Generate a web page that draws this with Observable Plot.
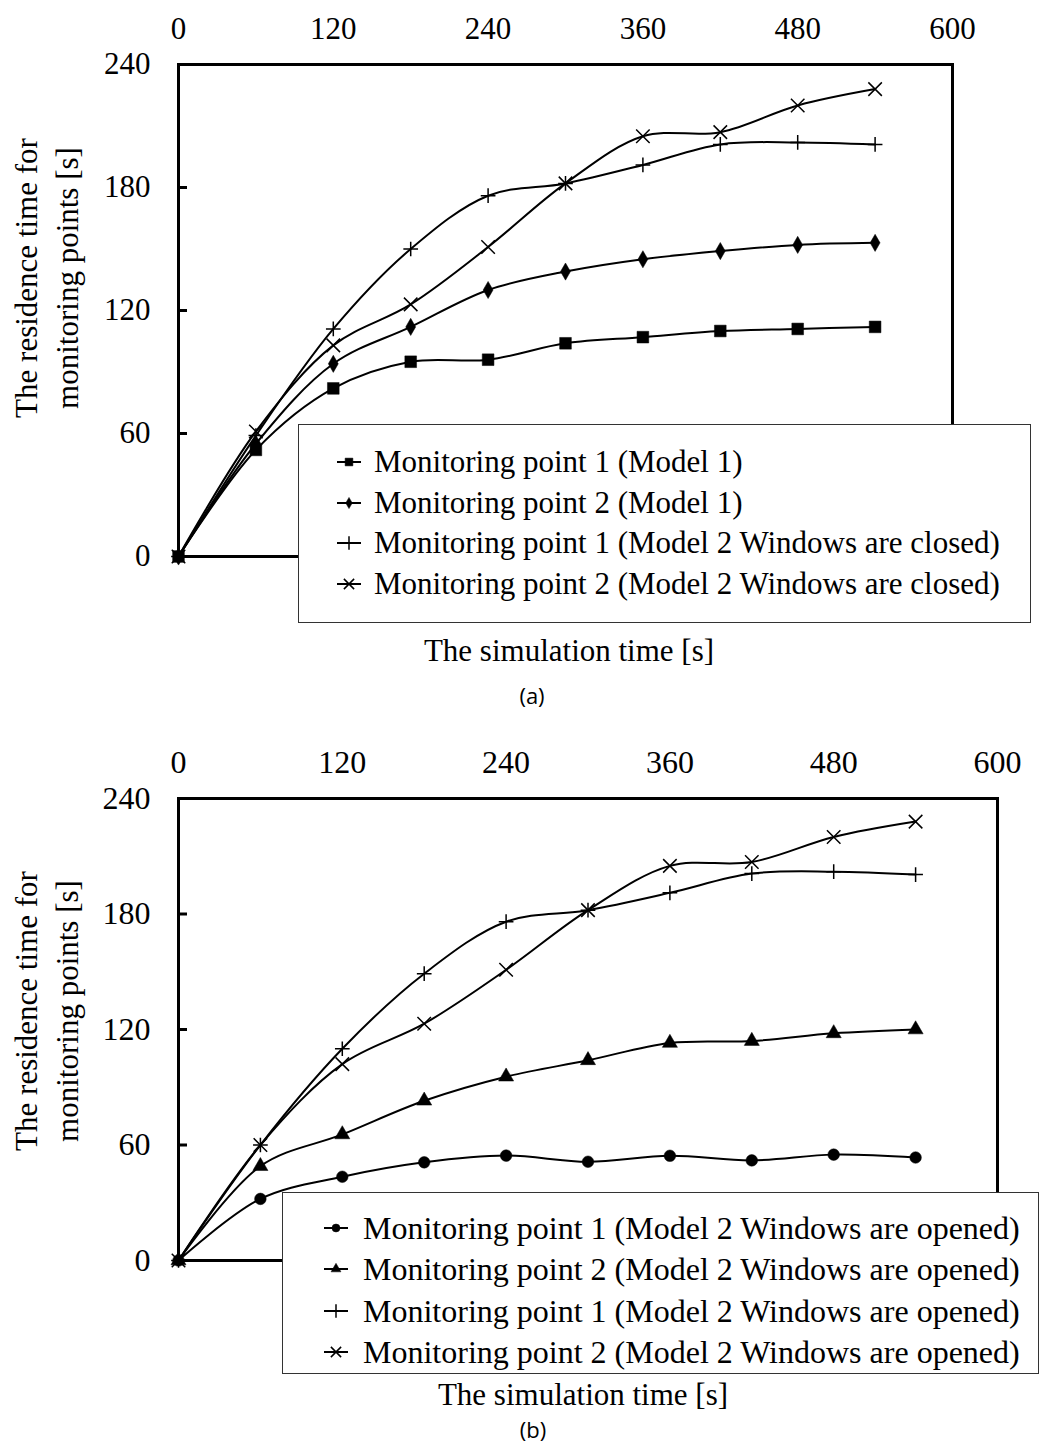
<!DOCTYPE html>
<html><head><meta charset="utf-8">
<script src="https://cdn.jsdelivr.net/npm/d3@7"></script>
<script src="https://cdn.jsdelivr.net/npm/@observablehq/plot@0.6"></script>
<style>
body{margin:0;background:#fff;}
#page{position:relative;width:1048px;height:1447px;overflow:hidden;font-family:"Liberation Serif","Times New Roman",serif;color:#000;background:#fff;}
.abs{position:absolute;}
.xt{text-align:center;width:600px;white-space:nowrap;}
.cap{font-family:"Open Sans","Noto Sans",sans-serif;font-size:22px;line-height:22px;text-align:center;width:100px;}
.yt{text-align:center;width:400px;transform:rotate(-90deg);white-space:nowrap;}
.legend{border:1.5px solid #333;background:#fff;box-sizing:border-box;}
.row{position:absolute;left:0;height:40px;width:100%;white-space:nowrap;}
.row svg{position:absolute;top:7px;}
.row span{position:absolute;top:0;line-height:40px;}
</style></head>
<body><div id="page"></div>
<script>
// ---------- data ----------
const time = [0, 60, 120, 180, 240, 300, 360, 420, 480, 540];
const xTicks = [0, 120, 240, 360, 480, 600];
const yTicks = [0, 60, 120, 180, 240];

// Panel (a)
const aLabels = [
  "Monitoring point 1 (Model 1)",
  "Monitoring point 2 (Model 1)",
  "Monitoring point 1 (Model 2 Windows are closed)",
  "Monitoring point 2 (Model 2 Windows are closed)"
];
const aPoint1Model1 = [0, 52, 82, 95, 96, 104, 107, 110, 111, 112];
const aPoint2Model1 = [0, 55, 94, 112, 130, 139, 145, 149, 152, 153];
const aPoint1Closed = [0, 59, 111, 150, 176, 182, 191, 201, 202, 201];
const aPoint2Closed = [0, 61, 103, 123, 151, 182, 205, 207, 220, 228];

// Panel (b)
const bLabels = [
  "Monitoring point 1 (Model 2 Windows are opened)",
  "Monitoring point 2 (Model 2 Windows are opened)",
  "Monitoring point 1 (Model 2 Windows are opened)",
  "Monitoring point 2 (Model 2 Windows are opened)"
];
const bPoint1Opened = [0, 32, 43.5, 51, 54.5, 51.3, 54.4, 52, 55, 53.5];
const bPoint2Opened = [0, 49, 65.5, 83, 95.5, 104, 113, 114, 118, 120];
const bPoint1Opened2 = [0, 60, 110, 149, 176, 182, 191, 201, 202, 200.5];
const bPoint2Opened2 = [0, 60, 102, 123, 151, 182, 205, 207, 220, 228];

const xLabel = "The simulation time [s]";
const yLabel1 = "The residence time for";
const yLabel2 = "monitoring points [s]";

// ---------- styles per series ----------
const aStyles = [
  {symbol: "square", r: 6.6, filled: true, ls: 60},
  {symbol: "diamond", r: 5.2, filled: true, ls: 36},
  {symbol: "plus", r: 4.8, filled: false, ls: 60},
  {symbol: "times", r: 6.2, filled: false, ls: 70}
];
const bStyles = [
  {symbol: "circle", r: 5.8, filled: true, ls: 50},
  {symbol: "triangle", r: 5.6, filled: true, ls: 42},
  {symbol: "plus", r: 4.8, filled: false, ls: 60},
  {symbol: "times", r: 6.2, filled: false, ls: 70}
];
const d3Sym = {square: d3.symbolSquare, diamond: d3.symbolDiamond, plus: d3.symbolPlus, times: d3.symbolTimes, circle: d3.symbolCircle, triangle: d3.symbolTriangle};

function makePanel({seriesValues, styles, top, height, mt, mr, mb, ml, fontSize}) {
  const plotW = 1048 - ml - mr;
  const marks = [];
  seriesValues.forEach((vals, k) => {
    const rows = time.map((t, i) => ({t, v: vals[i]}));
    const st = styles[k];
    marks.push(Plot.line(rows, {x: "t", y: "v", curve: "catmull-rom", stroke: "black", strokeWidth: 2}));
    marks.push(Plot.dot(rows, {x: "t", y: "v", symbol: () => st.symbol, r: st.r,
      fill: st.filled ? "black" : "none", stroke: "black", strokeWidth: st.filled ? 0.5 : 1.5}));
  });
  const svg = Plot.plot({
    width: 1048, height,
    marginTop: mt, marginRight: mr, marginBottom: mb, marginLeft: ml,
    style: {fontFamily: '"Liberation Serif","Times New Roman",serif', fontSize: fontSize + "px", color: "black", background: "transparent", overflow: "visible"},
    x: {domain: [0, 600]},
    y: {domain: [0, 240]},
    symbol: {type: "identity"},
    marks: [
      Plot.axisX({anchor: "top", ticks: xTicks, tickSize: 0, tickPadding: 26, label: null, tickFormat: d => String(d)}),
      Plot.axisY({anchor: "left", ticks: yTicks, tickSize: 0, tickPadding: 28, label: null, tickFormat: d => String(d)}),
      Plot.tickY(yTicks.slice(1, -1), {y: d => d, insetRight: plotW - 9, stroke: "black", strokeWidth: 3}),
      ...marks,
      Plot.frame({stroke: "black", strokeWidth: 3})
    ]
  });
  svg.style.position = "absolute";
  svg.style.left = "0px";
  svg.style.top = top + "px";
  return svg;
}

const page = document.getElementById("page");

function addText(cls, text, left, top, css) {
  const d = document.createElement("div");
  d.className = "abs " + cls;
  d.textContent = text;
  d.style.left = left + "px";
  d.style.top = top + "px";
  Object.assign(d.style, css || {});
  page.appendChild(d);
  return d;
}

function addYTitle(cx, cy, fontSize) {
  const lh = 41;
  const d = document.createElement("div");
  d.className = "abs yt";
  d.style.fontSize = fontSize + "px";
  d.style.lineHeight = lh + "px";
  d.style.left = (cx - 200) + "px";
  d.style.top = (cy - lh) + "px";
  [yLabel1, yLabel2].forEach(t => { const s = document.createElement("div"); s.textContent = t; d.appendChild(s); });
  page.appendChild(d);
}

function addLegend({labels, styles, left, top, width, height, rows, swatchX, textX, fontSize}) {
  const box = document.createElement("div");
  box.className = "abs legend";
  Object.assign(box.style, {left: left + "px", top: top + "px", width: width + "px", height: height + "px"});
  labels.forEach((lab, k) => {
    const st = styles[k];
    const row = document.createElement("div");
    row.className = "row";
    row.style.top = (rows[k] - 20) + "px";
    const ns = "http://www.w3.org/2000/svg";
    const s = document.createElementNS(ns, "svg");
    s.setAttribute("width", 26); s.setAttribute("height", 26);
    s.style.left = (swatchX - 13) + "px";
    const ln = document.createElementNS(ns, "line");
    ln.setAttribute("x1", 1); ln.setAttribute("x2", 25); ln.setAttribute("y1", 13); ln.setAttribute("y2", 13);
    ln.setAttribute("stroke", "black"); ln.setAttribute("stroke-width", 2);
    s.appendChild(ln);
    const p = document.createElementNS(ns, "path");
    p.setAttribute("d", d3.symbol(d3Sym[st.symbol], st.ls)());
    p.setAttribute("transform", "translate(13,13)");
    p.setAttribute("fill", st.filled ? "black" : "none");
    p.setAttribute("stroke", "black");
    p.setAttribute("stroke-width", st.filled ? 0.5 : 1.5);
    s.appendChild(p);
    row.appendChild(s);
    const sp = document.createElement("span");
    sp.textContent = lab;
    sp.style.left = textX + "px";
    sp.style.fontSize = fontSize + "px";
    row.appendChild(sp);
    box.appendChild(row);
  });
  page.appendChild(box);
}

// ---------- panel (a) ----------
page.appendChild(makePanel({
  seriesValues: [aPoint1Model1, aPoint2Model1, aPoint1Closed, aPoint2Closed],
  styles: aStyles, top: 0, height: 600, mt: 64, mr: 96, mb: 44, ml: 178, fontSize: 31
}));
addLegend({labels: aLabels, styles: aStyles, left: 298, top: 424, width: 733, height: 199,
  rows: [37, 78, 118, 159], swatchX: 50, textX: 75, fontSize: 31});
addYTitle(47, 278, 31);
addText("xt", xLabel, 569 - 300, 635, {fontSize: "31px", lineHeight: "31px"});
addText("cap", "(a)", 532 - 50, 684);

// ---------- panel (b) ----------
page.appendChild(makePanel({
  seriesValues: [bPoint1Opened, bPoint2Opened, bPoint1Opened2, bPoint2Opened2],
  styles: bStyles, top: 734, height: 600, mt: 64, mr: 51, mb: 74, ml: 178, fontSize: 32
}));
addLegend({labels: bLabels, styles: bStyles, left: 282, top: 1192, width: 757, height: 182,
  rows: [35, 76, 118, 159], swatchX: 53, textX: 80, fontSize: 32});
addYTitle(47, 1011, 31);
addText("xt", xLabel, 583 - 300, 1379, {fontSize: "31px", lineHeight: "31px"});
addText("cap", "(b)", 533 - 50, 1418);
</script>
</body></html>
